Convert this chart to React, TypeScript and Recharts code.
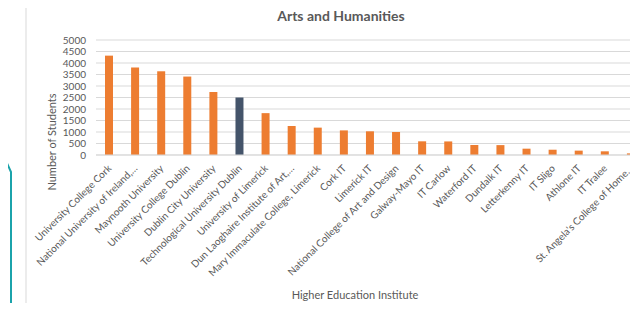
import { BarChart, Bar, XAxis, YAxis, CartesianGrid, Cell } from "recharts";

const institutes = [
  "University College Cork",
  "National University of Ireland,…",
  "Maynooth University",
  "University College Dublin",
  "Dublin City University",
  "Technological University Dublin",
  "University of Limerick",
  "Dun Laoghaire Institute of Art,…",
  "Mary Immaculate College, Limerick",
  "Cork IT",
  "Limerick IT",
  "National College of Art and Design",
  "Galway-Mayo IT",
  "IT Carlow",
  "Waterford IT",
  "Dundalk IT",
  "Letterkenny IT",
  "IT Sligo",
  "Athlone IT",
  "IT Tralee",
  "St. Angela's College of Home…",
];

const students = [
  4320, 3800, 3640, 3410, 2740, 2500, 1820, 1260, 1190, 1070, 1030, 1000,
  595, 590, 435, 430, 275, 230, 190, 160, 70,
];

const yTicks = [0, 500, 1000, 1500, 2000, 2500, 3000, 3500, 4000, 4500, 5000];

const highlighted = "Technological University Dublin";

const data = institutes.map((name, i) => ({ name, students: students[i] }));

const FONT = "Lato, 'Open Sans', sans-serif";

function SlantTick(props: any) {
  const { x, y, payload } = props;
  return (
    <g transform={`translate(${x + 3},${y + 6})`}>
      <text
        x={0}
        y={0}
        textAnchor="end"
        transform="rotate(-45)"
        fontSize={10}
        fill="#595959"
        fontFamily={FONT}
      >
        {payload.value}
      </text>
    </g>
  );
}

export default function App() {
  return (
    <div
      style={{
        margin: -8,
        position: "relative",
        width: 638,
        height: 311,
        overflow: "hidden",
        background: "#fff",
        fontFamily: FONT,
      }}
    >
      {/* teal page decoration and chart frame */}
      <svg width={638} height={311} style={{ position: "absolute", left: 0, top: 0 }}>
        <polyline points="0,148 11,172 11,311" fill="none" stroke="#1ba3ab" strokeWidth={2} />
        <line x1={26} y1={5} x2={26} y2={307} stroke="#d9d9d9" strokeWidth={1} />
        <line x1={26} y1={307} x2={638} y2={307} stroke="#d9d9d9" strokeWidth={1} />
      </svg>
      <div
        style={{
          position: "absolute",
          left: 0,
          width: 682,
          top: 7,
          textAlign: "center",
          fontSize: 14,
          fontWeight: 700,
          color: "#595959",
        }}
      >
        Arts and Humanities
      </div>
      <div
        style={{
          position: "absolute",
          left: 51,
          top: 142,
          transform: "translate(-50%, -50%) rotate(-90deg)",
          fontSize: 11,
          color: "#595959",
          whiteSpace: "nowrap",
        }}
      >
        Number of Students
      </div>
      <div
        style={{
          position: "absolute",
          left: 355,
          top: 294,
          transform: "translate(-50%, -50%)",
          fontSize: 11,
          color: "#595959",
          whiteSpace: "nowrap",
        }}
      >
        Higher Education Institute
      </div>
      <div style={{ position: "absolute", left: 0, top: 0 }}>
        <BarChart
          width={646}
          height={311}
          data={data}
          margin={{ top: 40, right: 2, bottom: 0, left: 0 }}
        >
          <CartesianGrid vertical={false} stroke="#d9d9d9" />
          <XAxis
            dataKey="name"
            interval={0}
            height={156}
            tickLine={false}
            axisLine={{ stroke: "#d9d9d9" }}
            tick={<SlantTick />}
          />
          <YAxis
            width={96}
            domain={[0, 5000]}
            ticks={yTicks}
            interval={0}
            axisLine={false}
            tickLine={false}
            tickSize={0}
            tickMargin={10}
            tick={{ fontSize: 10, fill: "#595959", fontFamily: FONT }}
          />
          <Bar dataKey="students" barSize={8} isAnimationActive={false}>
            {data.map((d) => (
              <Cell key={d.name} fill={d.name === highlighted ? "#44546a" : "#ed7d31"} />
            ))}
          </Bar>
        </BarChart>
      </div>
    </div>
  );
}
